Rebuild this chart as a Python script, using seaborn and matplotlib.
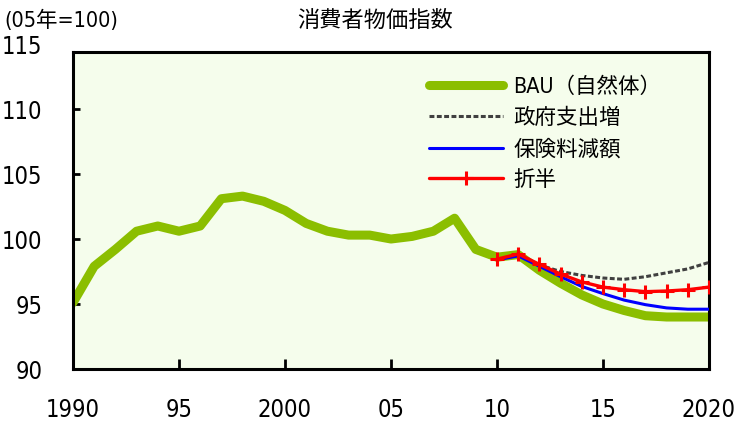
import matplotlib
matplotlib.use("Agg")
import matplotlib.pyplot as plt
import seaborn as sns
import pandas as pd

# 消費者物価指数 (2005年=100)
years_bau = list(range(1990, 2021))
bau = [95.1, 97.9, 99.2, 100.6, 101.0, 100.6, 101.0, 103.1, 103.3, 102.9,
       102.2, 101.2, 100.6, 100.3, 100.3, 100.0, 100.2, 100.6, 101.6, 99.2,
       98.6, 98.8, 97.6, 96.6, 95.7, 95.0, 94.5, 94.1, 94.0, 94.0, 94.0]

years_sim = list(range(2010, 2021))
gov_spending = [98.4, 98.8, 98.0, 97.5, 97.2, 97.0, 96.9, 97.1, 97.4, 97.7, 98.2]
premium_cut = [98.4, 98.7, 97.9, 97.1, 96.35, 95.8, 95.3, 94.95, 94.7, 94.6, 94.6]
half_split = [98.45, 98.85, 98.05, 97.3, 96.7, 96.3, 96.1, 95.95, 96.0, 96.1, 96.3]

series_labels = ["BAU（自然体）", "政府支出増", "保険料減額", "折半"]
xtick_pos = [1990, 1995, 2000, 2005, 2010, 2015, 2020]
xtick_labels = ["1990", "95", "2000", "05", "10", "15", "2020"]
ytick_pos = [90, 95, 100, 105, 110, 115]

df_bau = pd.DataFrame({"year": years_bau, "cpi": bau})
df_gov = pd.DataFrame({"year": years_sim, "cpi": gov_spending})
df_prem = pd.DataFrame({"year": years_sim, "cpi": premium_cut})
df_half = pd.DataFrame({"year": years_sim, "cpi": half_split})

sns.set_theme(style="white")
plt.rcParams["font.family"] = ["DejaVu Sans", "Noto Sans CJK JP"]
plt.rcParams["font.stretch"] = "condensed"

fig = plt.figure(figsize=(7.35, 4.24), dpi=100)
ax = fig.add_axes([0.0993, 0.1297, 0.8653, 0.7665])
ax.set_facecolor("white")

y_top = 114.35
ax.axhspan(90, y_top, color="#F5FDEC", zorder=0, lw=0)

sns.lineplot(data=df_bau, x="year", y="cpi", ax=ax, color="#8BBE00", lw=6.5,
             solid_capstyle="round", label=series_labels[0], zorder=2)
sns.lineplot(data=df_gov, x="year", y="cpi", ax=ax, color="#404040", lw=2.2,
             linestyle=(0, (1.6, 0.8)), label=series_labels[1], zorder=3)
sns.lineplot(data=df_prem, x="year", y="cpi", ax=ax, color="#0000FF", lw=2.2,
             label=series_labels[2], zorder=4)
sns.lineplot(data=df_half, x="year", y="cpi", ax=ax, color="#FF0000", lw=2.4,
             marker="+", markersize=10, markeredgewidth=2.2, markeredgecolor="#FF0000",
             label=series_labels[3], zorder=5)

ax.set_xlim(1990, 2020)
ax.set_ylim(90, 115)
ax.set_xlabel("")
ax.set_ylabel("")

ax.set_xticks(xtick_pos)
ax.set_xticklabels(xtick_labels)
ax.set_yticks(ytick_pos)

for side in ["left", "right", "bottom", "top"]:
    ax.spines[side].set_visible(True)
    ax.spines[side].set_color("black")
    ax.spines[side].set_linewidth(2.2)
ax.spines["top"].set_position(("data", y_top))
ax.spines["left"].set_bounds(90, y_top)
ax.spines["right"].set_bounds(90, y_top)

ax.tick_params(axis="x", direction="in", length=7, width=2, pad=21,
               labelsize=17, bottom=True, colors="black")
ax.tick_params(axis="y", direction="in", length=5, width=2, pad=22,
               labelsize=17, left=True, colors="black")
# the 115 label sits above the frame, so its tick mark is hidden
ax.yaxis.get_major_ticks()[-1].tick1line.set_visible(False)
for t in ax.get_xticklabels() + ax.get_yticklabels():
    t.set_color("black")
    t.set_fontstretch("condensed")

leg = ax.legend(loc="upper left", bbox_to_anchor=(0.53, 0.96), frameon=False,
                handlelength=3.4, handletextpad=0.5, labelspacing=0.5,
                prop={"family": ["DejaVu Sans", "Noto Sans CJK JP"],
                      "stretch": "condensed", "size": 15.5})
for txt in leg.get_texts():
    txt.set_color("black")

fig.text(0.51, 0.952, "消費者物価指数", ha="center", va="center", fontsize=16,
         family=["Noto Sans CJK JP", "DejaVu Sans"], color="black")
fig.text(0.006, 0.952, "(05年=100)", ha="left", va="center", fontsize=15.5,
         family=["DejaVu Sans", "Noto Sans CJK JP"], stretch="condensed", color="black")

fig.savefig("out.png", dpi=100, facecolor="white")
